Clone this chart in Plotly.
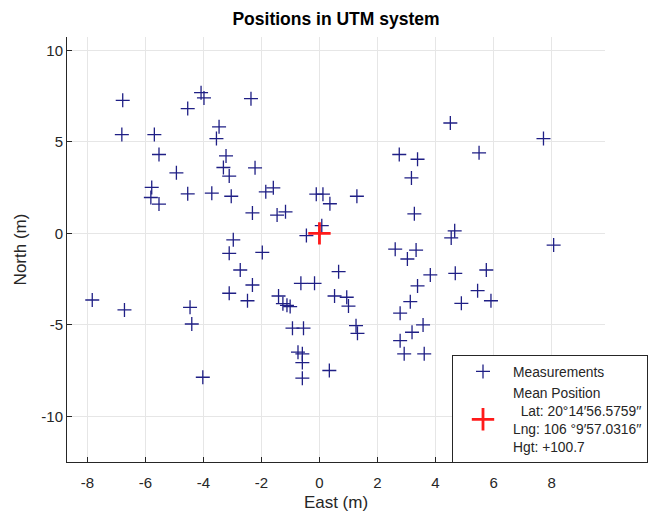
import plotly.graph_objects as go

# Measurements (East, North) in metres
east = [-6.78, -6.81, -5.69, -5.53, -4.54, -4.08, -3.98, -2.36, -3.46, -3.55, -3.22, -3.31,
        -3.11, -2.22, -4.93, -5.78, -5.81, -5.53, -4.54, -3.71, -3.04, -1.85, -1.59, -2.31,
        -1.46, -1.17, -0.11, 0.12, 0.36, 0.08, -0.45, -2.97,
        2.75, 3.38, 3.17, 3.27, 4.51, 5.50, 7.72, 1.29, 4.66, 4.54,
        -3.11, -1.97, -2.73, -2.31, -0.64, -0.17, -3.11, -2.48, -1.41, -1.26, -1.12, -1.01,
        -7.83, -6.72, -4.46, -4.40, -0.93, -0.55, -0.74, -0.59, -0.59, -0.59, -4.02, 0.34,
        2.61, 3.33, 3.03, 0.66, 3.82, 4.68, 5.75, 3.38, 5.45, 5.91, 4.89, 3.13, 2.78, 0.52,
        0.94, 1.00, 1.26, 1.31, 3.57, 3.19, 2.78, 2.92, 3.61, 8.07]
north = [7.27, 5.40, 5.40, 4.31, 6.82, 7.69, 7.40, 7.36, 5.82, 5.18, 4.23, 3.60,
         3.13, 3.58, 3.31, 2.51, 1.96, 1.60, 2.16, 2.20, 2.03, 2.27, 2.49, 1.12,
         1.00, 1.18, 2.14, 2.14, 1.62, 0.42, -0.12, -0.35,
         4.31, 4.05, 3.03, 1.07, 6.03, 4.40, 5.18, 2.03, 0.14, -0.25,
         -1.09, -1.04, -2.00, -2.82, -2.73, -2.73, -3.27, -3.68, -3.42, -3.84, -3.93, -4.00,
         -3.64, -4.18, -4.04, -4.95, -5.18, -5.18, -6.49, -6.58, -7.06, -7.91, -7.86, -7.49,
         -0.86, -0.91, -1.40, -2.09, -2.27, -2.18, -2.00, -2.87, -3.13, -3.68, -3.82, -3.73,
         -4.36, -3.42, -3.49, -3.97, -5.04, -5.46, -5.00, -5.40, -5.86, -6.58, -6.58, -0.64]

mean_east = [0.0]
mean_north = [0.0]

x_ticks = [-8, -6, -4, -2, 0, 2, 4, 6, 8]
y_ticks = [-10, -5, 0, 5, 10]

title_text = "Positions in UTM system"
meas_name = "Measurements"
mean_name = ("Mean Position<br>\u00a0\u00a0Lat: 20\u00b014\u203256.5759\u2032\u2032"
             "<br>Lng: 106\u00a0\u00b09\u203257.0316\u2032\u2032<br>Hgt: +100.7")

font_family = "Arial, Liberation Sans, Helvetica, sans-serif"
axis_color = "#262626"
grid_color = "#e6e6e6"

fig = go.Figure()
fig.add_trace(go.Scatter(
    x=east, y=north, mode="markers", name=meas_name,
    marker=dict(symbol="cross-thin", size=10, color="#1f1f85",
                line=dict(width=1.3, color="#1f1f85")),
))
fig.add_trace(go.Scatter(
    x=mean_east, y=mean_north, mode="markers", name=mean_name,
    marker=dict(symbol="cross-thin", size=16, color="#ff1a1a",
                line=dict(width=2.8, color="#ff1a1a")),
))

# page has an 8px body margin; margins below compensate
fig.update_layout(
    width=656, height=513,
    margin=dict(l=59, r=59, t=29, b=59, autoexpand=False),
    paper_bgcolor="white", plot_bgcolor="white",
    font=dict(family=font_family, size=15, color=axis_color),
    title=dict(text="<b>" + title_text + "</b>", x=0.5, xanchor="center",
               y=1 - 11 / 513, yanchor="middle",
               font=dict(size=17.5, color="black", family=font_family)),
    showlegend=True,
    legend=dict(x=(452 - 67) / 538, xanchor="left", y=(462 - 355) / 425, yanchor="top",
                bgcolor="white", bordercolor="#262626", borderwidth=1,
                font=dict(size=13.8, color="#262626", family=font_family),
                itemwidth=50, tracegroupgap=0),
)

fig.update_xaxes(
    range=[-8.70, 9.84], tickvals=x_ticks, ticktext=[str(v) for v in x_ticks],
    showgrid=True, gridcolor=grid_color, gridwidth=1, zeroline=False,
    showline=True, linecolor=axis_color, linewidth=1, mirror=False,
    ticks="inside", ticklen=5, tickcolor=axis_color, automargin=False,
    tickfont=dict(size=15), ticklabelstandoff=7,
    title=dict(text="East (m)", standoff=6, font=dict(size=17)),
)
fig.update_yaxes(
    range=[-12.49, 10.73], tickvals=y_ticks, ticktext=[str(v) for v in y_ticks],
    showgrid=True, gridcolor=grid_color, gridwidth=1, zeroline=False,
    showline=True, linecolor=axis_color, linewidth=1, mirror=False,
    ticks="inside", ticklen=5, tickcolor=axis_color, automargin=False,
    tickfont=dict(size=15),
    title=dict(text="North (m)", standoff=10, font=dict(size=17)),
)

fig.write_html("out.html")
